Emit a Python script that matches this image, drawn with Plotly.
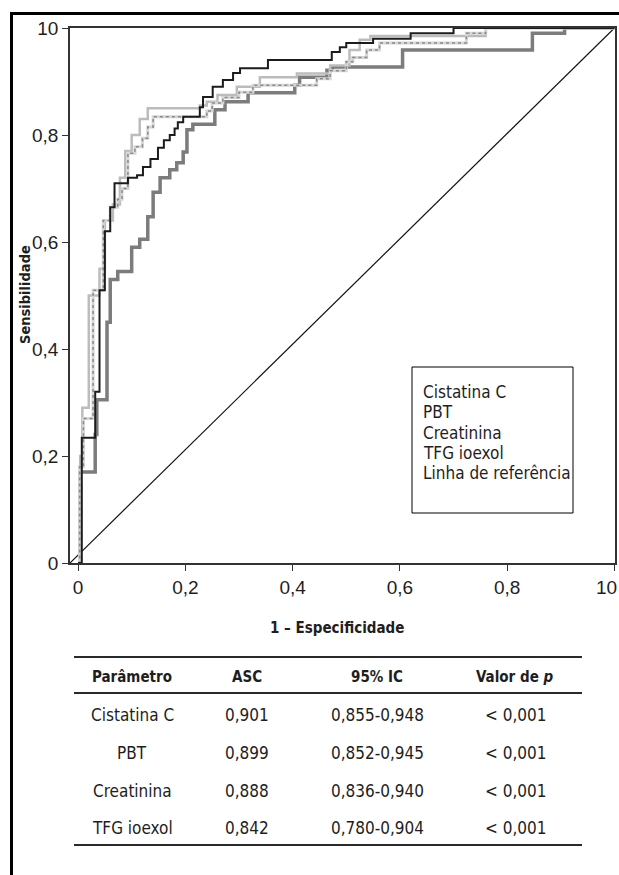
import plotly.graph_objects as go

# ---------------- data ----------------
series_names = ["Cistatina C", "PBT", "Creatinina", "TFG ioexol"]
legend_labels = ["Cistatina C", "PBT", "Creatinina", "TFG ioexol", "Linha de referência"]

fpr_cistatina = [0, 0.007, 0.032, 0.040, 0.050, 0.060, 0.068, 0.093, 0.110, 0.121, 0.135, 0.149, 0.160,
                 0.171, 0.180, 0.186, 0.196, 0.227, 0.233, 0.251, 0.270, 0.289, 0.302, 0.354, 0.473,
                 0.488, 0.500, 0.550, 0.620, 0.700, 1.0]
tpr_cistatina = [0, 0.234, 0.320, 0.510, 0.620, 0.665, 0.710, 0.720, 0.725, 0.740, 0.755, 0.776, 0.790,
                 0.800, 0.812, 0.824, 0.834, 0.852, 0.871, 0.890, 0.903, 0.916, 0.925, 0.940, 0.955,
                 0.964, 0.972, 0.980, 0.990, 1.0, 1.0]

fpr_pbt = [0, 0.003, 0.010, 0.028, 0.047, 0.060, 0.074, 0.082, 0.093, 0.106, 0.120, 0.130, 0.140,
           0.240, 0.250, 0.270, 0.300, 0.326, 0.445, 0.470, 0.500, 0.512, 0.538, 0.562, 0.724, 0.760, 1.0]
tpr_pbt = [0, 0.180, 0.270, 0.510, 0.640, 0.665, 0.680, 0.700, 0.766, 0.778, 0.794, 0.815, 0.834,
           0.845, 0.860, 0.870, 0.880, 0.893, 0.905, 0.920, 0.937, 0.945, 0.959, 0.972, 0.990, 1.0, 1.0]

fpr_creat = [0, 0.004, 0.008, 0.020, 0.040, 0.050, 0.065, 0.078, 0.088, 0.100, 0.115, 0.130, 0.227,
             0.240, 0.260, 0.296, 0.339, 0.408, 0.470, 0.506, 0.525, 0.545, 0.760, 1.0]
tpr_creat = [0, 0.200, 0.290, 0.500, 0.550, 0.640, 0.670, 0.720, 0.770, 0.800, 0.830, 0.850, 0.855,
             0.862, 0.875, 0.890, 0.908, 0.915, 0.930, 0.959, 0.978, 0.985, 1.0, 1.0]

fpr_tfg = [0, 0.004, 0.032, 0.035, 0.054, 0.060, 0.074, 0.100, 0.115, 0.130, 0.140, 0.153, 0.171,
           0.184, 0.196, 0.203, 0.214, 0.255, 0.274, 0.317, 0.404, 0.413, 0.464, 0.474, 0.605,
           0.847, 0.907, 1.0]
tpr_tfg = [0, 0.170, 0.240, 0.305, 0.450, 0.530, 0.545, 0.590, 0.605, 0.647, 0.693, 0.720, 0.735,
           0.748, 0.768, 0.810, 0.820, 0.847, 0.862, 0.879, 0.893, 0.908, 0.921, 0.927, 0.959,
           0.990, 1.0, 1.0]

ref_y = [0, 1]

tick_vals = [0, 0.2, 0.4, 0.6, 0.8, 1.0]
y_tick_text = ["0", "0,2", "0,4", "0,6", "0,8", "10"]
x_tick_text = ["0", "0,2", "0,4", "0,6", "0,8", ""]
x_last_label = "10"
x_min = -0.015
x_max = 1.001

table_header = ["Parâmetro", "ASC", "95% IC", "Valor de <i>p</i>"]
table_param = ["Cistatina C", "PBT", "Creatinina", "TFG ioexol"]
table_asc = ["0,901", "0,899", "0,888", "0,842"]
table_ci = ["0,855-0,948", "0,852-0,945", "0,836-0,940", "0,780-0,904"]
table_p = ["< 0,001", "< 0,001", "< 0,001", "< 0,001"]

# ---------------- styles ----------------
NARROW = "DejaVu Sans Condensed, Liberation Sans Narrow, Arial Narrow, sans-serif"
REG = "Liberation Sans, Arial, sans-serif"
TXT = "#1e1e1e"

fig = go.Figure()

fig.add_trace(go.Scatter(x=[x_min, 1.0], y=ref_y, mode="lines", name="Linha de referência",
                         line=dict(color="#111111", width=1.2), showlegend=False))
fig.add_trace(go.Scatter(x=fpr_tfg, y=tpr_tfg, mode="lines", name=series_names[3], line_shape="hv",
                         line=dict(color="#7c7c7c", width=3.5), showlegend=False))
fig.add_trace(go.Scatter(x=fpr_creat, y=tpr_creat, mode="lines", name=series_names[2], line_shape="hv",
                         line=dict(color="#bcbcbc", width=2.5), showlegend=False))
fig.add_trace(go.Scatter(x=fpr_pbt, y=tpr_pbt, mode="lines", name=series_names[1], line_shape="hv",
                         line=dict(color="#d6d6d6", width=3), showlegend=False))
fig.add_trace(go.Scatter(x=fpr_pbt, y=tpr_pbt, mode="lines", name=series_names[1], line_shape="hv",
                         line=dict(color="#8a8a8a", width=1.5, dash="dot"), showlegend=False))
fig.add_trace(go.Scatter(x=fpr_cistatina, y=tpr_cistatina, mode="lines", name=series_names[0],
                         line_shape="hv", line=dict(color="#1c1c1c", width=2), showlegend=False))

# plot-area pixel geometry helpers (paper coordinates)
L, R, T, B = 70, 615, 28, 563
def px(xp):
    return (xp - L) / (R - L)
def py(yp):
    return (B - yp) / (B - T)

shapes = []
# figure frame (top and left thick rules)
shapes.append(dict(type="line", xref="paper", yref="paper", x0=px(11.5), x1=px(619), y0=py(13.5), y1=py(13.5),
                   line=dict(color="black", width=3)))
shapes.append(dict(type="line", xref="paper", yref="paper", x0=px(11.5), x1=px(11.5), y0=py(12), y1=py(875),
                   line=dict(color="black", width=3)))
# legend box
shapes.append(dict(type="rect", xref="paper", yref="paper", x0=px(412), x1=px(573), y0=py(513), y1=py(367),
                   line=dict(color="black", width=1), fillcolor="white", layer="above"))
# table rules
for yy in [657, 693, 845]:
    shapes.append(dict(type="line", xref="paper", yref="paper", x0=px(74), x1=px(582), y0=py(yy), y1=py(yy),
                       line=dict(color="#2a2a2a", width=2)))

annotations = []
# last x tick label, kept inside the page
annotations.append(dict(text=x_last_label, xref="paper", yref="paper", x=px(619), y=py(587),
                        showarrow=False, xanchor="right", yanchor="middle",
                        font=dict(family=REG, size=19, color=TXT)))
# axis titles
annotations.append(dict(text="<b>Sensibilidade</b>", xref="paper", yref="paper", x=px(25), y=py(295),
                        textangle=-90, showarrow=False, font=dict(family=NARROW, size=14.5, color=TXT),
                        xanchor="center", yanchor="middle"))
annotations.append(dict(text="<b>1 – Especificidade</b>", xref="paper", yref="paper", x=px(337), y=py(628),
                        showarrow=False, font=dict(family=NARROW, size=15, color=TXT),
                        xanchor="center", yanchor="middle"))
# legend text
leg_y = [392, 412, 433, 453, 473]
for lab, yy in zip(legend_labels, leg_y):
    annotations.append(dict(text=lab, xref="paper", yref="paper", x=px(421), y=py(yy), showarrow=False,
                            xanchor="left", yanchor="middle", font=dict(family=NARROW, size=17, color=TXT)))
# table
col_x = [132, 247, 377, 515]
for cx, h in zip(col_x, table_header):
    annotations.append(dict(text="<b>" + h + "</b>", xref="paper", yref="paper", x=px(cx), y=py(677),
                            showarrow=False, xanchor="center", yanchor="middle",
                            font=dict(family=NARROW, size=15, color=TXT)))
row_y = [715, 753, 791, 828]
for i, ry in enumerate(row_y):
    for cx, col in zip(col_x, [table_param, table_asc, table_ci, table_p]):
        annotations.append(dict(text=col[i], xref="paper", yref="paper", x=px(cx), y=py(ry),
                                showarrow=False, xanchor="center", yanchor="middle",
                                font=dict(family=NARROW, size=17, color=TXT)))

axis_common = dict(showgrid=False, zeroline=False, showline=True, mirror=True, linecolor="#333333",
                   linewidth=1.5, ticks="outside", ticklen=6, tickwidth=1.2, tickcolor="#333333",
                   tickfont=dict(family=REG, size=19, color=TXT), tickvals=tick_vals,
                   ticklabeloverflow="allow")

fig.update_layout(
    width=619, height=875,
    margin=dict(l=L, r=619 - R, t=T, b=875 - B, autoexpand=False),
    paper_bgcolor="white", plot_bgcolor="white",
    xaxis=dict(range=[x_min, x_max], ticktext=x_tick_text, **axis_common),
    yaxis=dict(range=[0, 1.0], ticktext=y_tick_text, **axis_common),
    shapes=shapes, annotations=annotations, showlegend=False,
)

fig.write_html("out.html", config={"displayModeBar": False},
               post_script="document.body.style.margin='0';document.body.style.overflow='hidden';")
